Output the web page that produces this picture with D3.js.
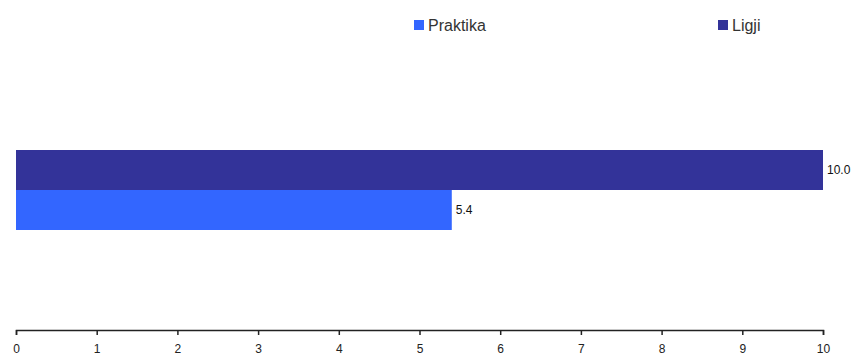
<!DOCTYPE html>
<html>
<head>
<meta charset="utf-8">
<script src="https://cdn.jsdelivr.net/npm/d3@7"></script>
<style>
  html, body { margin: 0; padding: 0; background: #fff; }
  svg { display: block; }
</style>
</head>
<body>
<svg id="chart" width="865" height="363"></svg>
<script>
// Series, drawn top to bottom
const seriesNames = ["Ligji", "Praktika"];
const seriesValues = [10.0, 5.4];
const seriesColors = ["#333399", "#3366ff"];
// Legend order, left to right
const legendNames = ["Praktika", "Ligji"];
const tickValues = [0, 1, 2, 3, 4, 5, 6, 7, 8, 9, 10];

const svg = d3.select("#chart");
const font = "Liberation Sans, Arial, sans-serif";

const x = d3.scaleLinear().domain([0, 10]).range([16, 823]);
const y = d3.scaleBand().domain(seriesNames).range([150, 230]).padding(0);

// Bars
svg.append("g").selectAll("rect")
  .data(seriesNames)
  .join("rect")
  .attr("x", x(0))
  .attr("y", d => y(d))
  .attr("width", (d, i) => x(seriesValues[i]) - x(0))
  .attr("height", y.bandwidth())
  .attr("fill", (d, i) => seriesColors[i]);

// Value labels
svg.append("g").selectAll("text")
  .data(seriesNames)
  .join("text")
  .attr("x", (d, i) => x(seriesValues[i]) + 4)
  .attr("y", d => y(d) + y.bandwidth() / 2)
  .attr("dy", "0.35em")
  .attr("font-family", font)
  .attr("font-size", 12)
  .attr("fill", "#111")
  .text((d, i) => seriesValues[i].toFixed(1));

// Axis
const axis = d3.axisBottom(x).tickValues(tickValues).tickSize(5).tickSizeOuter(5).tickFormat(d3.format("d"));
const ax = svg.append("g").attr("transform", "translate(0,330)").call(axis);
ax.select(".domain").attr("stroke", "#222").attr("stroke-width", 1.5);
ax.selectAll(".tick line").attr("stroke", "#222").attr("stroke-width", 1.5);
ax.selectAll(".tick text")
  .attr("font-family", font)
  .attr("font-size", 12)
  .attr("fill", "#222")
  .attr("y", 14);

// Legend
const legendX = [414, 718];
const legend = svg.append("g").selectAll("g")
  .data(legendNames)
  .join("g")
  .attr("transform", (d, i) => `translate(${legendX[i]},20)`);
legend.append("rect")
  .attr("width", 10).attr("height", 10)
  .attr("fill", d => seriesColors[seriesNames.indexOf(d)]);
legend.append("text")
  .attr("x", 14).attr("y", 5).attr("dy", "0.35em")
  .attr("font-family", font)
  .attr("font-size", 16)
  .attr("fill", "#333")
  .text(d => d);
</script>
</body>
</html>
